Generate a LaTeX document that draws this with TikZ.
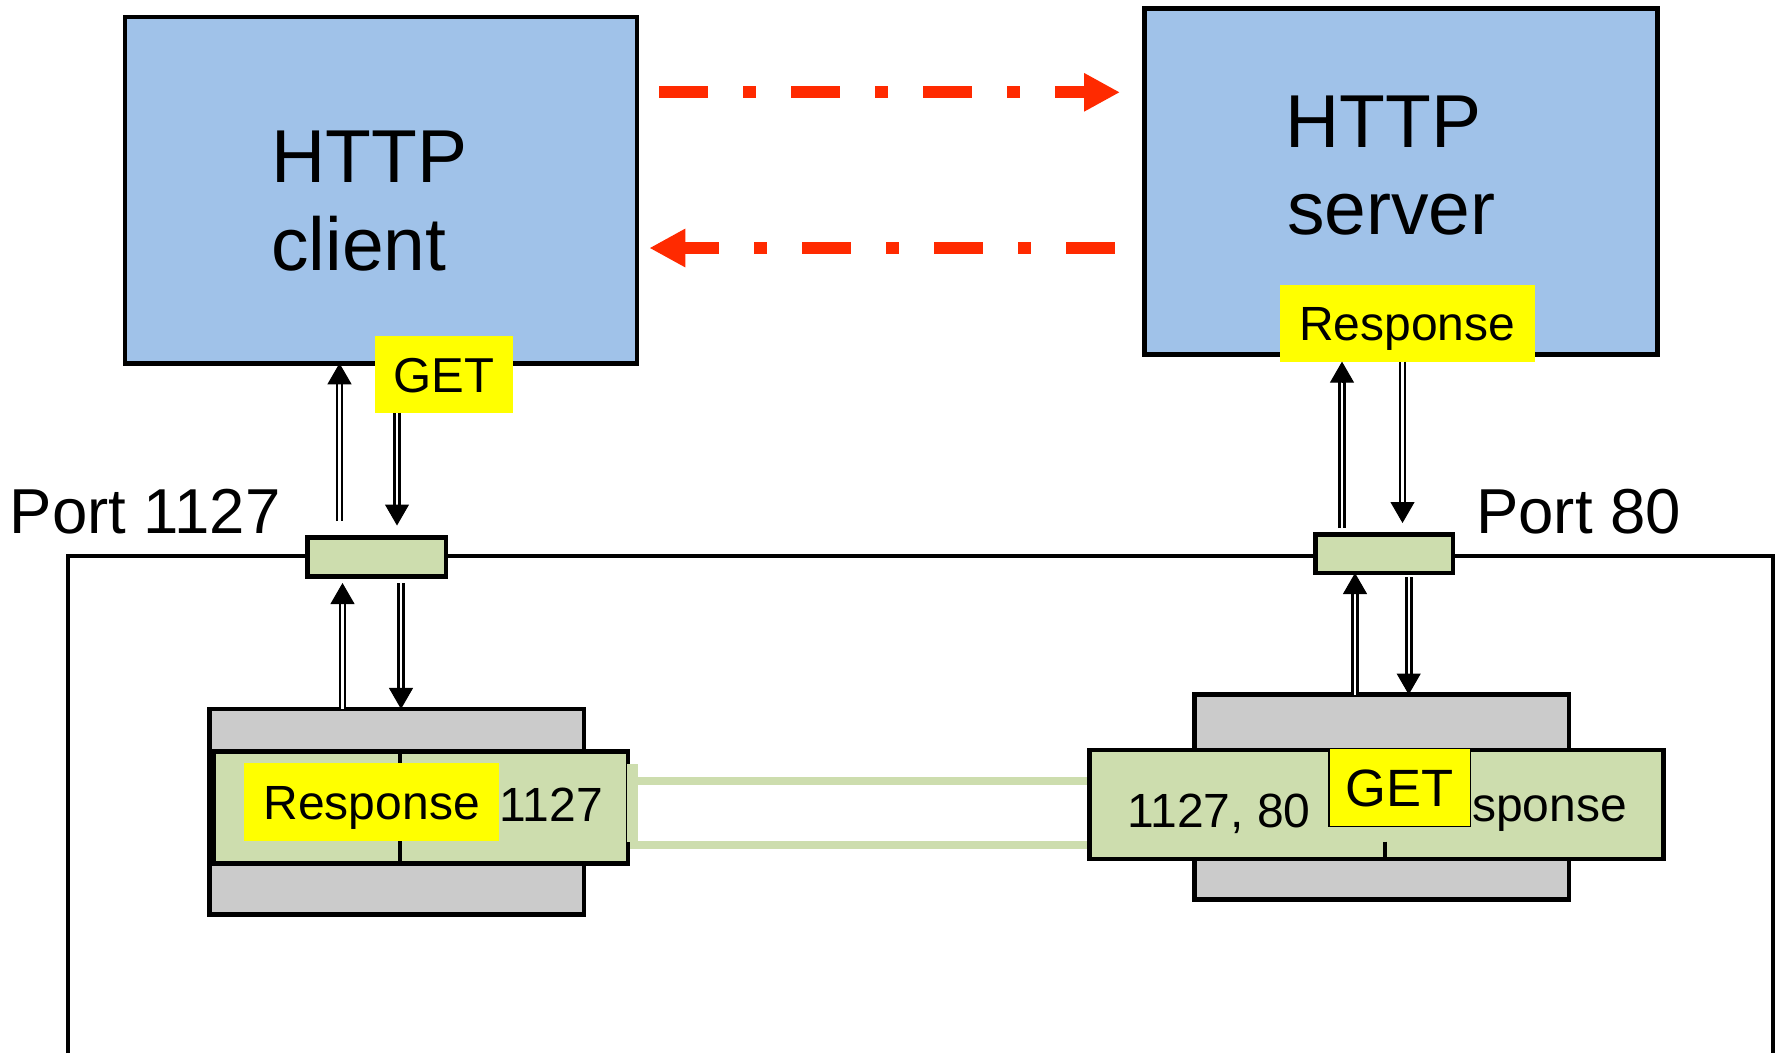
\documentclass[tikz,border=0pt]{standalone}
\usepackage{fontspec}
\setmainfont{Liberation Sans}
\usetikzlibrary{arrows.meta,calc}

\definecolor{hostblue}{RGB}{160,194,233}
\definecolor{portgreen}{RGB}{205,221,174}
\definecolor{sockgray}{RGB}{203,203,203}
\definecolor{msgyellow}{RGB}{255,255,0}
\definecolor{flowred}{RGB}{255,42,0}

% double-lined connector with a solid triangular head
\newcommand{\twinarrow}[2]{%
  \draw[twinline] (#1) -- (#2);
  \draw[twintip] ($(#2)!20pt!(#1)$) -- (#2);}

\begin{document}
\begin{tikzpicture}[x=1pt,y=-1pt,
  hostbox/.style={draw, fill=hostblue, line width=4.5pt, inner sep=0pt, outer sep=0pt},
  sockbox/.style={draw, fill=sockgray, line width=4.5pt, inner sep=0pt, outer sep=0pt},
  greenbox/.style={draw, fill=portgreen, line width=4.5pt, inner sep=0pt, outer sep=0pt},
  portbox/.style={draw, fill=portgreen, line width=4.5pt, inner sep=0pt, outer sep=0pt},
  bigtext/.style={inner sep=0pt, font=\fontsize{75pt}{88pt}\selectfont},
  porttext/.style={inner sep=0pt, font=\fontsize{63.5pt}{76pt}\selectfont},
  plaintext/.style={inner sep=0pt, font=\fontsize{48pt}{58pt}\selectfont},
  tag/.style={fill=msgyellow, inner sep=0pt, outer sep=0pt,
    font=\fontsize{48pt}{58pt}\selectfont, text height=34.4pt, text depth=0pt},
  channel/.style={draw=portgreen, line width=8pt},
  redflow/.style={draw=flowred, line width=12pt,
    dash pattern=on 48.3pt off 35.7pt on 12.3pt off 35.7pt,
    -{Triangle[width=36pt,length=36pt]}},
  twinline/.style={draw, line width=2.6pt, double=white, double distance=2.4pt, shorten >=18pt},
  twintip/.style={draw, line width=1pt, -{Triangle[width=24pt,length=21pt]}}
]
\useasboundingbox (0,0) rectangle (1777,1053);
\fill[white] (0,0) rectangle (1777,1053);

% host outline
\draw[line width=4pt] (68,1053) -- (68,556) -- (1773,556) -- (1773,1053);

% application processes
\node[hostbox, minimum width=511.8pt, minimum height=346.5pt] (client) at (381.1,190) {};
\node[hostbox, minimum width=513pt, minimum height=346pt] (server) at (1400.75,181.25) {};
\node[bigtext, anchor=base west] (clientl1) at (271,182) {HTTP};
\node[bigtext, anchor=base west] (clientl2) at (271,270) {client};
\node[bigtext, anchor=base west] (serverl1) at (1285,147) {HTTP};
\node[bigtext, anchor=base west] (serverl2) at (1287,234) {server};

% logical request / response flow
\coordinate (rq0) at (659.3,92.3);
\coordinate (rq1) at (1120,92.3);
\draw[redflow] (rq0) -- (rq1);
\coordinate (rs0) at (1114.7,248);
\coordinate (rs1) at (649.3,248);
\draw[redflow] (rs0) -- (rs1);

% sockets
\node[sockbox, minimum width=374.2pt, minimum height=205.5pt] (graya) at (396.65,811.7) {};
\node[greenbox, minimum width=414.5pt, minimum height=111.7pt] (greena) at (420.5,807.4) {};
\node[sockbox, minimum width=374.5pt, minimum height=204.9pt] (grayb) at (1381.5,797) {};
\node[greenbox, minimum width=574pt, minimum height=108.8pt] (greenb) at (1376.25,804.35) {};

% connection between the sockets
\coordinate (ch1) at (860,781);
\coordinate (ch2) at (860,845);
\draw[channel] ([xshift=2.25pt]greena.east |- ch1) -- ([xshift=-2.25pt]greenb.west |- ch1);
\draw[channel] ([xshift=2.25pt]greena.east |- ch2) -- ([xshift=-2.25pt]greenb.west |- ch2);
\fill[portgreen] (626.7,764) rectangle (637.7,841.7);

% socket partitions
\coordinate (divx) at (400,800);
\draw[line width=4pt] (greena.north -| divx) -- (greena.south -| divx);
\coordinate (tickx) at (1385,841.7);
\draw[line width=3.5pt] (tickx) -- (tickx |- greenb.south);

% socket contents
\node[tag, minimum width=255.4pt, minimum height=77.7pt] (respa) at (371.7,801.9) {Response};
\node[plaintext, anchor=base west] (numa) at (499.5,821.7) {1127};
\node[plaintext, anchor=base west] (pairb) at (1127,827.7) {1127, 80};
\node[plaintext, anchor=base west] (respb) at (1472,821.7) {sponse};
\node[tag, draw=black, line width=1.5pt, font=\fontsize{52.5pt}{63pt}\selectfont,
      text height=37.6pt, minimum width=141.5pt, minimum height=77.8pt] (getb) at (1399.5,787.4) {GET};

% messages leaving / entering the processes
\node[tag, font=\fontsize{49pt}{59pt}\selectfont, text height=35pt,
      minimum width=137.5pt, minimum height=76.5pt] (getc) at (443.75,374.5) {GET};
\node[tag, minimum width=255.3pt, minimum height=76.6pt] (resps) at (1407.3,323.3) {Response};

% ports
\node[portbox, minimum width=138.5pt, minimum height=39.1pt] (porta) at (376.5,556.8) {};
\node[portbox, minimum width=137.1pt, minimum height=38.2pt] (portb) at (1384.2,553.65) {};
\node[porttext, anchor=base west] (portalbl) at (9.5,533) {Port 1127};
\node[porttext, anchor=base west] (portblbl) at (1476,533.5) {Port 80};

% client side data paths
\coordinate (a1) at (339.5,521);
\twinarrow{a1}{a1 |- client.south}
\coordinate (a2) at (397,525.5);
\twinarrow{a2 |- getc.south}{a2}
\coordinate (a3) at (342.5,583);
\twinarrow{a3 |- graya.north}{a3}
\coordinate (a4) at (401,583);
\twinarrow{a4}{a4 |- graya.north}

% server side data paths
\coordinate (b1) at (1342,528);
\twinarrow{b1}{b1 |- resps.south}
\coordinate (b2) at (1402.5,523);
\twinarrow{b2 |- resps.south}{b2}
\coordinate (b3) at (1355,573);
\twinarrow{b3 |- grayb.north}{b3}
\coordinate (b4) at (1408.7,577);
\twinarrow{b4}{b4 |- grayb.north}
\end{tikzpicture}
\end{document}
